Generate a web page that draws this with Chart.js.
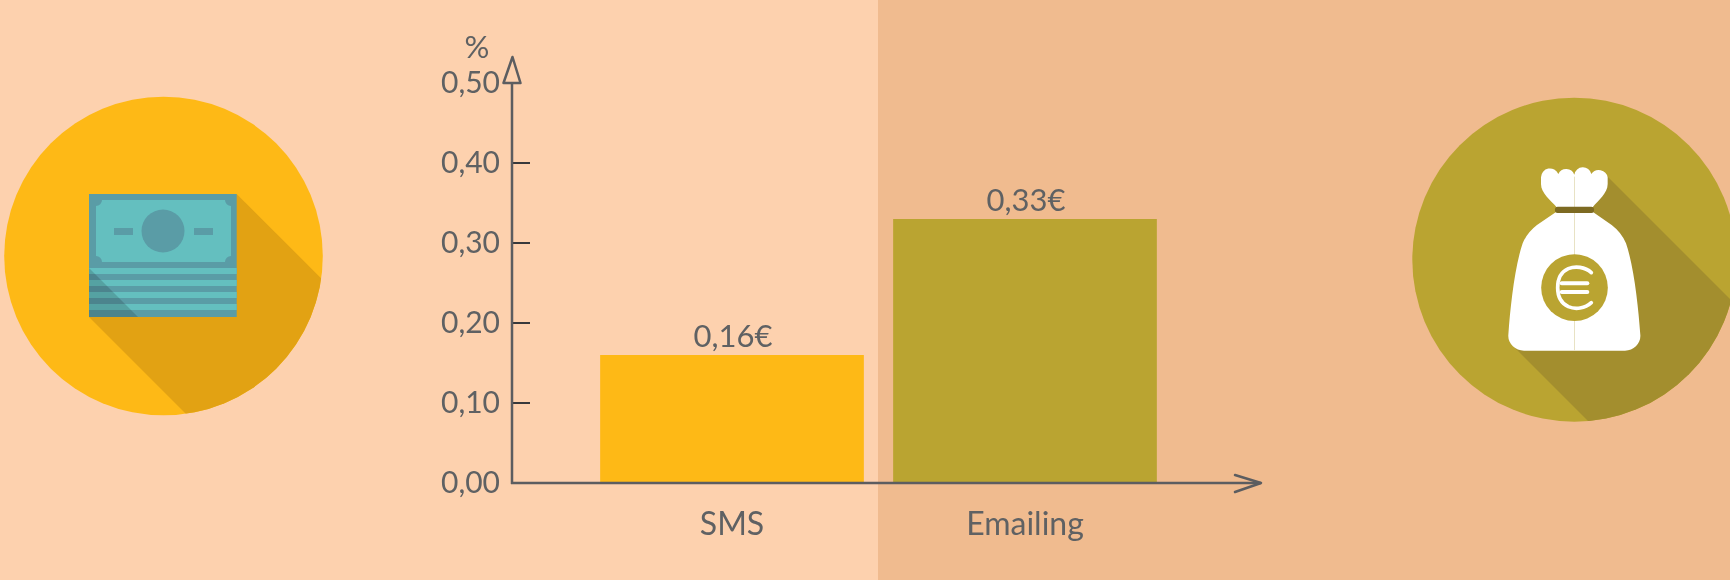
<!DOCTYPE html>
<html>
<head>
<meta charset="utf-8">
<script src="https://cdn.jsdelivr.net/npm/chart.js@4"></script>
<style>
html,body{margin:0;padding:0;width:1730px;height:580px;overflow:hidden;background:#fdd1ae}
#bg{position:absolute;left:0;top:0}
canvas{position:absolute;left:0;top:0}
</style>
</head>
<body>
<svg id="bg" width="1730" height="580" viewBox="0 0 1730 580">
  <rect x="0" y="0" width="878" height="580" fill="#fdd1ae"/>
  <rect x="878" y="0" width="852" height="580" fill="#f0bb8f"/>
  <defs>
    <clipPath id="c1"><circle cx="163.5" cy="256" r="159.3"/></clipPath>
    <clipPath id="c2"><circle cx="1574.3" cy="259.7" r="162"/></clipPath>
  </defs>
  <!-- left icon -->
  <circle cx="163.5" cy="256" r="159.3" fill="#feb916"/>
  <polygon clip-path="url(#c1)" points="236.7,194 400,357 400,500 272,500 89,317" fill="#e2a213"/>
  <rect x="89" y="194" width="147.7" height="123" fill="#5a9ca6"/>
  <path d="M102,200H225A6,6 0 0 0 231,206V256A6,6 0 0 0 225,262H102A6,6 0 0 0 96,256V206A6,6 0 0 0 102,200Z" fill="#64bfbf"/>
  <circle cx="163" cy="231" r="21.5" fill="#5a9ca6"/>
  <rect x="114" y="228" width="19" height="7" fill="#5a9ca6"/>
  <rect x="194" y="228" width="19" height="7" fill="#5a9ca6"/>
  <rect x="89" y="268" width="147.7" height="6" fill="#64bfbf"/>
  <rect x="89" y="280" width="147.7" height="6" fill="#64bfbf"/>
  <rect x="89" y="292" width="147.7" height="6" fill="#64bfbf"/>
  <rect x="89" y="304" width="147.7" height="6" fill="#64bfbf"/>
  <polygon points="89,268 138,317 89,317" fill="#000" fill-opacity="0.15"/>
  <!-- right icon -->
  <circle cx="1574.3" cy="259.7" r="162" fill="#baa431"/>
  <polygon clip-path="url(#c2)" points="1606,175 1800,369 1800,500 1667,500 1515,348" fill="#a38e2e"/>
  <g transform="translate(1390,80) scale(0.33333)">
    <path d="M500,382 C482,360 453,340 453,312 L453,292 A27,27 0 0 1 505,282 A26,26 0 0 1 553,284 A26,26 0 0 1 604,282 A27,27 0 0 1 653,292 L653,312 C653,340 625,360 608,382 Z" fill="#fff"/>
    <path d="M497,397 L610,397 L665,435 Q695,458 708,490 C732,560 745,680 751,765 C753,790 732,812 705,812 L402,812 C375,812 353,790 355,765 C361,680 374,560 398,490 Q411,458 441,435 Z" fill="#fff"/>
    <line x1="553.5" y1="290" x2="553.5" y2="812" stroke="#e8e2c4" stroke-width="3"/>
    <rect x="495" y="380" width="117" height="19" rx="8" fill="#7d6a22"/>
    <circle cx="553.5" cy="623" r="100" fill="#baa431"/>
    <path d="M604,578 C585,560 555,558 535,566 C512,576 503,600 503,623 C503,648 514,670 535,680 C556,689 585,686 604,668" fill="none" stroke="#fff" stroke-width="11" stroke-linecap="round"/>
    <line x1="515" y1="610" x2="592" y2="610" stroke="#fff" stroke-width="12" stroke-linecap="round"/>
    <line x1="515" y1="636" x2="592" y2="636" stroke="#fff" stroke-width="12" stroke-linecap="round"/>
  </g>
</svg>
<canvas id="chart" width="1730" height="580"></canvas>
<script>
const categories = ['SMS', 'Emailing'];
const values = [0.16, 0.33];
const valueLabels = ['0,16€', '0,33€'];
const barColors = ['#feb916', '#baa431'];
const yMin = 0, yMax = 0.5, yStep = 0.1;
const unitLabel = '%';

const FONT = 'Lato, sans-serif';
const TEXT = '#5f6163';
const AXIS = '#5c5d60';

const decor = {
  id: 'decor',
  afterDatasetsDraw(chart) {
    const {ctx, scales: {y}, chartArea: a} = chart;
    const axisX = a.left - 73.5;
    const base = y.getPixelForValue(yMin);
    const top = y.getPixelForValue(yMax);
    ctx.save();
    ctx.strokeStyle = '#38393b';
    ctx.lineWidth = 2;
    y.ticks.forEach(t => {
      const p = y.getPixelForValue(t.value);
      if (t.value <= yMin || t.value >= yMax) return;
      ctx.beginPath(); ctx.moveTo(axisX, p); ctx.lineTo(axisX + 18, p); ctx.stroke();
    });
    ctx.strokeStyle = AXIS;
    ctx.lineWidth = 2.5;
    ctx.beginPath();
    ctx.moveTo(axisX, top); ctx.lineTo(axisX, base + 1); ctx.stroke();
    ctx.beginPath();
    ctx.moveTo(axisX - 1, base); ctx.lineTo(1261, base); ctx.stroke();
    ctx.lineJoin = 'round'; ctx.lineCap = 'round';
    ctx.beginPath();
    ctx.moveTo(1235, base - 8); ctx.lineTo(1261, base); ctx.lineTo(1235, base + 9); ctx.stroke();
    ctx.beginPath();
    ctx.moveTo(axisX + 0.5, top - 26); ctx.lineTo(axisX + 8.5, top); ctx.lineTo(axisX - 8.5, top); ctx.closePath(); ctx.stroke();
    ctx.fillStyle = TEXT;
    ctx.font = '31px ' + FONT;
    ctx.textAlign = 'center';
    ctx.textBaseline = 'middle';
    chart.getDatasetMeta(0).data.forEach((b, i) => {
      ctx.fillText(valueLabels[i], b.x + 1, b.y - 18);
    });
    ctx.fillText(unitLabel, axisX - 35, top - 35);
    ctx.restore();
  }
};

new Chart(document.getElementById('chart'), {
  type: 'bar',
  data: {
    labels: categories,
    datasets: [{
      data: values,
      backgroundColor: barColors,
      borderWidth: 0,
      barPercentage: 0.9,
      categoryPercentage: 1
    }]
  },
  options: {
    responsive: false,
    animation: false,
    devicePixelRatio: 1,
    layout: {padding: {left: 385.5, right: 558.5, top: 83, bottom: 0}},
    plugins: {legend: {display: false}, tooltip: {enabled: false}, title: {display: false}},
    scales: {
      x: {
        grid: {display: false, drawTicks: false},
        border: {display: false},
        ticks: {color: TEXT, font: {family: FONT, size: 32}, padding: 22, maxRotation: 0},
        afterFit(s) { s.height = 97; s.paddingLeft = 0; s.paddingRight = 0; }
      },
      y: {
        min: yMin, max: yMax,
        grid: {display: false, drawTicks: false},
        border: {display: false},
        ticks: {
          stepSize: yStep, color: TEXT, padding: 85.5,
          font: {family: FONT, size: 30},
          callback: v => v.toFixed(2).replace('.', ',')
        },
        afterFit(s) { s.width = 200; s.paddingTop = 0; s.paddingBottom = 0; }
      }
    }
  },
  plugins: [decor]
});
</script>
</body>
</html>
